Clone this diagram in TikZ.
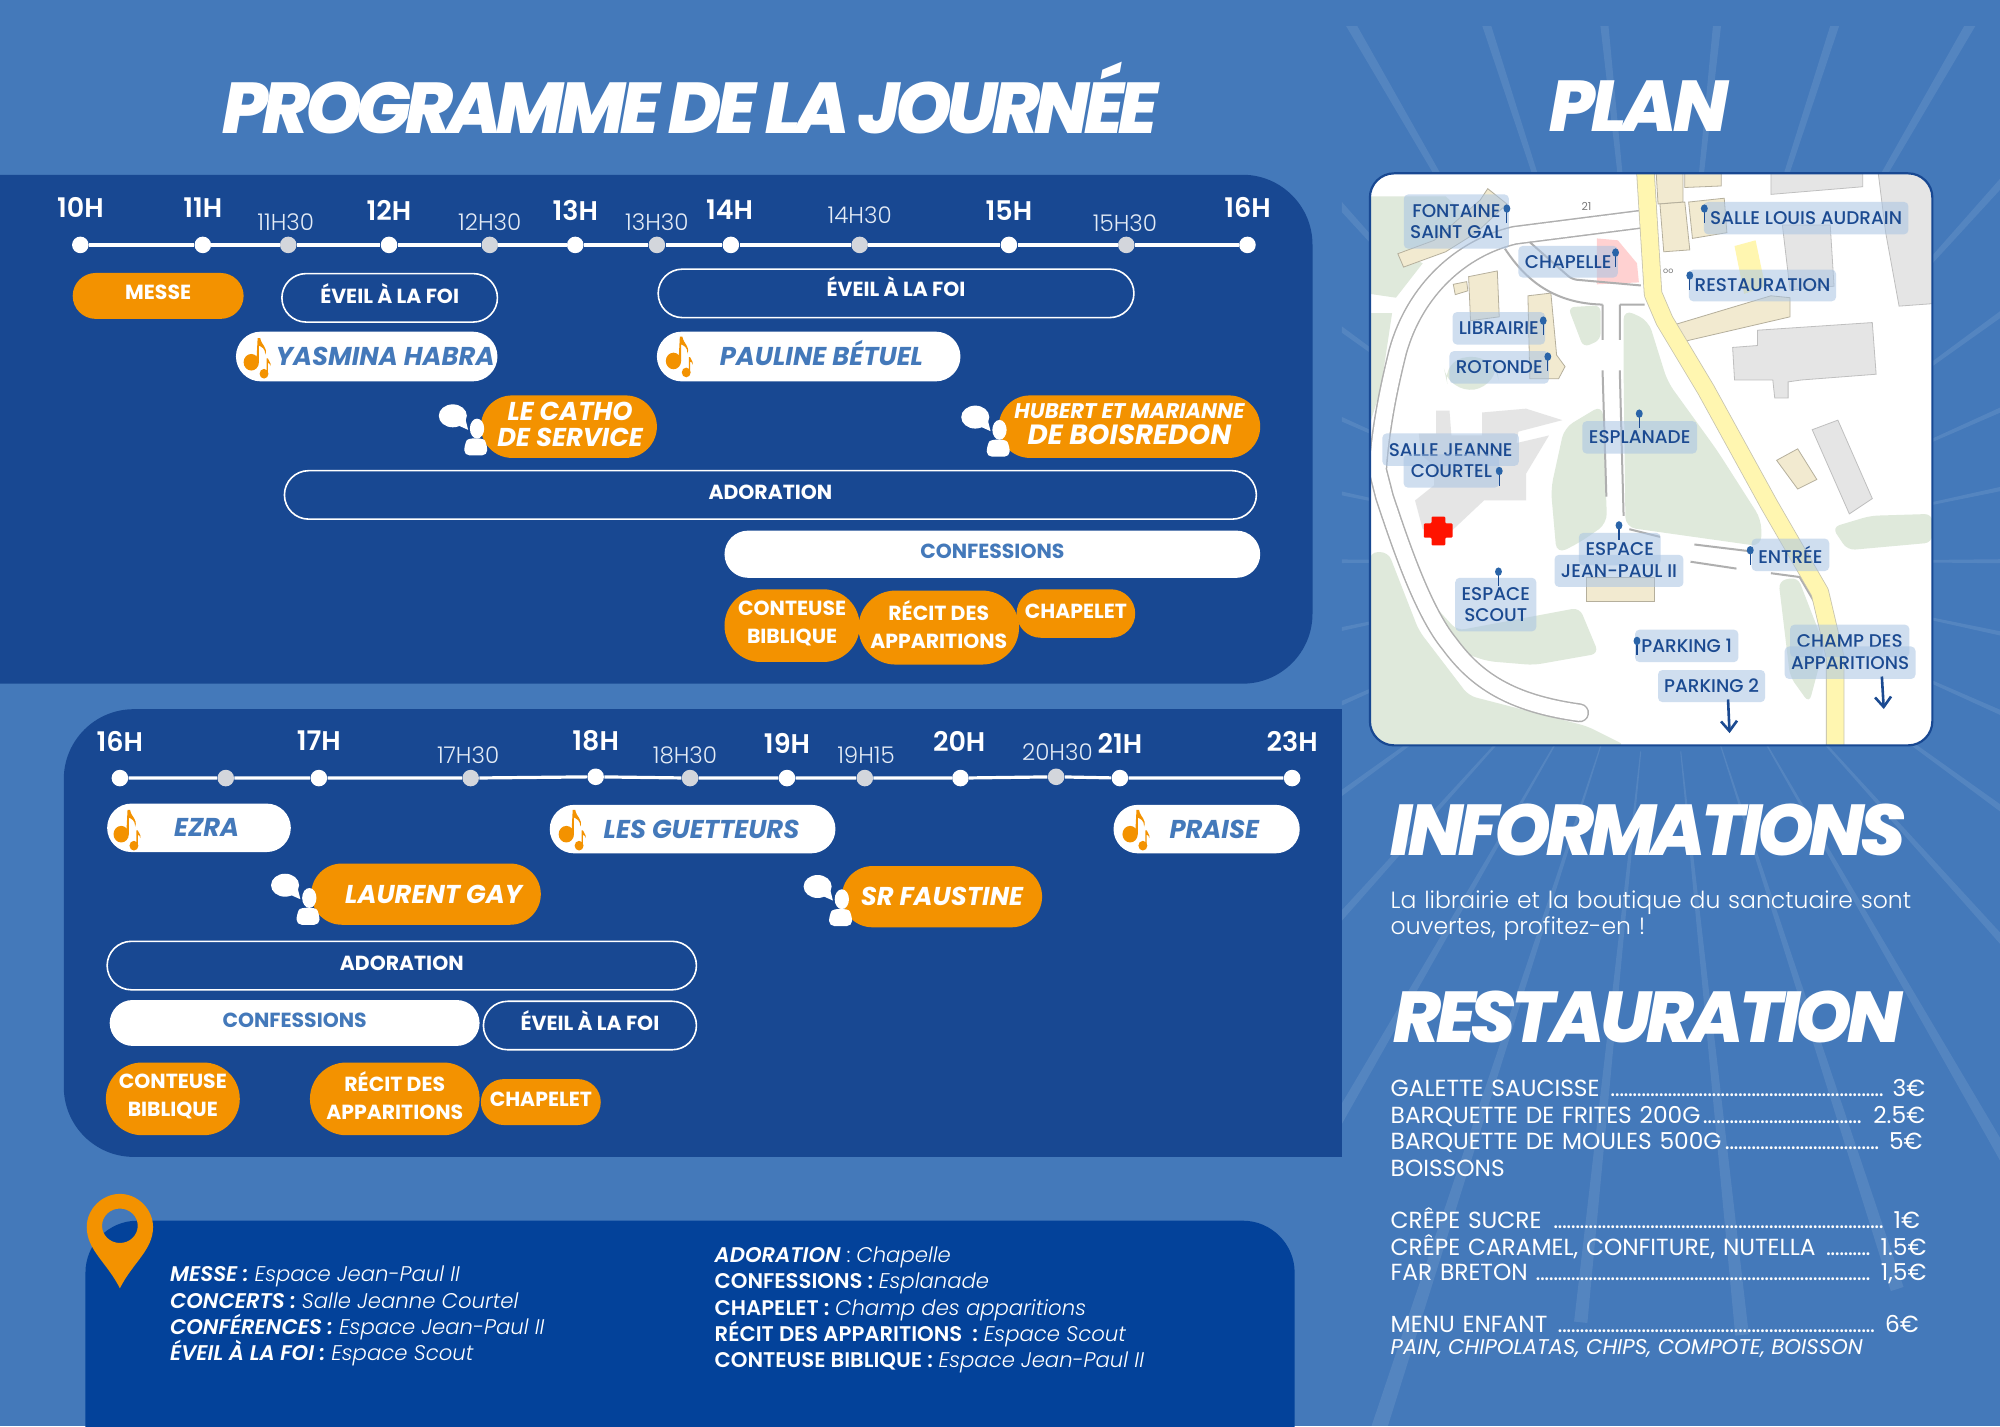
\documentclass[tikz,border=0pt]{standalone}
\usepackage{fontspec}
\setmainfont{Poppins}
\newfontfamily\titlefont[LetterSpace=-6.5]{Poppins ExtraBold Italic}
\newfontfamily\daytitlefont[LetterSpace=-7.5]{Poppins ExtraBold Italic}
\newfontfamily\plantitlefont[LetterSpace=-5.5]{Poppins ExtraBold Italic}
\newfontfamily\semifont{Poppins SemiBold}
\newfontfamily\lightfont{Poppins Light}
\newfontfamily\mediumfont{Poppins Medium}
\usetikzlibrary{positioning, arrows.meta, shapes.misc}
\newlength\uu
\setlength\uu{0.63776pt}
\definecolor{skyblue}{HTML}{4479BA}
\definecolor{navyblue}{HTML}{184892}
\definecolor{deepblue}{HTML}{03429A}
\definecolor{ambre}{HTML}{F39200}
\definecolor{mapgreen}{HTML}{DFE9DB}
\definecolor{mapbeige}{HTML}{F2EAD0}
\definecolor{mapgrey}{HTML}{E5E5E5}
\definecolor{mapline}{HTML}{AFAFAF}
\definecolor{mapyellow}{HTML}{FFF6B0}
\definecolor{mapink}{HTML}{1B4A91}
\definecolor{tagblue}{HTML}{A8C3E3}
\definecolor{pinblue}{HTML}{2A64A8}
\definecolor{halftick}{HTML}{D3D6DC}
\newcommand{\dotrun}{\leaders\hbox to 2.2pt{\hss.\hss}\hfill}
\tikzset{
  tick/.style={circle,fill=white,inner sep=0pt,minimum size=13\uu},
  halfmark/.style={tick,fill=halftick},
  hourlabel/.style={text=white,font=\semifont\fontsize{13.5}{14}\selectfont},
  halflabel/.style={text=white!85!skyblue,font=\lightfont\fontsize{11.5}{12}\selectfont},
  pill/.style={rounded rectangle,inner sep=0pt,align=center,font=\bfseries\fontsize{10.2}{14}\selectfont},
  lowpill/.style={pill,text height=7.2pt,text depth=4\uu},
  orangepill/.style={pill,fill=ambre,text=white,text depth=5\uu},
  orangeline/.style={lowpill,fill=ambre,text=white},
  framepill/.style={lowpill,draw=white,line width=0.8pt,text=white},
  whitepill/.style={lowpill,fill=white,text=skyblue},
  artist/.style={pill,fill=white,text=skyblue,text height=9pt,text depth=0pt,font=\bfseries\itshape\fontsize{12.9}{14}\selectfont},
  speaker/.style={pill,fill=ambre,text=white,text depth=4\uu,font=\bfseries\itshape\fontsize{12.9}{13}\selectfont},
  heading/.style={text=white,font=\titlefont\fontsize{36}{38}\selectfont},
  placetag/.style={rectangle,rounded corners=3.5\uu,fill=tagblue,fill opacity=.55,text opacity=1,text=mapink,inner sep=0pt,align=center,
    font=\mediumfont\fontsize{9.2}{10.4}\selectfont},
  building/.style={fill=mapbeige,draw=mapbeige!75!black,line width=.4pt},
  hall/.style={fill=mapgrey,draw=mapline!80!white,line width=.4pt},
  menurow/.style={anchor=base west,inner sep=0pt,text=white,text width=419\uu,font=\fontsize{11.65}{12}\selectfont},
  placeline/.style={anchor=base west,inner sep=0pt,text=white,font=\lightfont\fontsize{10.6}{13}\selectfont},
  note/.pic={
    \fill[ambre] (-4,4) ellipse (6 and 6.5);
    \fill[ambre] (0,4) -- (1,-15) -- (3,-15) .. controls (4,-9) and (9,-8) .. (7,-2) .. controls (7,-7) and (4,-8) .. (2,-9) -- (2,4) -- cycle;
    \fill[ambre] (6,13) ellipse (3.5 and 3.8);
    \fill[ambre] (8,13) -- (8,1) -- (9,1) .. controls (9,3) and (12,4) .. (11,7) .. controls (11,5) and (10,5) .. (9,4.5) -- (9,13) -- cycle;
  },
  talker/.pic={
    \fill[white] (-12,-11) ellipse (11 and 9);
    \fill[white] (-9,-4) -- (0,0) -- (-2,-8) -- cycle;
    \fill[white] (7,-1) ellipse (5.6 and 7.8);
    \fill[white,rounded corners=4\uu] (-3,20) -- (-3,12) .. controls (0,6) and (12,6) .. (15,12) -- (15,20) -- cycle;
  },
  mappin/.pic={
    \draw[mapink,line width=.6pt] (0,0) -- (0,38);
    \fill[pinblue] (0,0) ellipse (9 and 11);
  }
}
\begin{document}
\begin{tikzpicture}[x=\uu,y=-\uu]
  \useasboundingbox (0,0) rectangle (1568,1118);
  \fill[skyblue] (0,0) rectangle (1568,1118);

  % rays behind the right column
  \begin{scope}
    \clip (1052,21) rectangle (1568,1118);
    \foreach \a/\r in {0/800,12/800,24/720,36/640,48/690,60/640,72/600,84/610,96/600,108/800,120/720,132/640,144/800,156/800,168/800,180/800,192/800,204/800,216/800,228/800,240/800,252/800,264/800,276/800,288/800,300/800,312/800,324/800,336/800,348/800}
      \fill[white,opacity=.09,shift={(1302,440)},line cap=round]
        (\a-.15:150) -- (\a-.5:\r) -- (\a+.5:\r) -- (\a+.15:150) -- cycle;
  \end{scope}

  \node[heading,font=\daytitlefont\fontsize{36}{38}\selectfont] (titleday) at (541,77) {PROGRAMME DE LA JOURNÉE};
  \node[heading,font=\plantitlefont\fontsize{36}{38}\selectfont] (titleplan) at (1285,83) {PLAN};
  \node[heading] (titleinfo) at (1292,651) {INFORMATIONS};
  \node[heading] (titlefood) at (1292,797) {RESTAURATION};

  % morning panel
  \fill[navyblue,rounded corners=35pt] (-100,137) rectangle (1029,536);
  \node[tick] (t10) at (63,192) {};
  \node[tick] (t11) at (159,192) {};
  \node[halfmark] (t1130) at (226,192) {};
  \node[tick] (t12) at (305,192) {};
  \node[halfmark] (t1230) at (384,192) {};
  \node[tick] (t13) at (451,192) {};
  \node[halfmark] (t1330) at (515,192) {};
  \node[tick] (t14) at (573,192) {};
  \node[halfmark] (t1430) at (674,192) {};
  \node[tick] (t15) at (791,192) {};
  \node[halfmark] (t1530) at (883,192) {};
  \node[tick] (t16) at (978,192) {};
  \draw[white,line width=1.6pt] (t10) -- (t11) -- (t1130) -- (t12) -- (t1230) -- (t13) -- (t1330) -- (t14) -- (t1430) -- (t15) -- (t1530) -- (t16);
  \node[hourlabel] (l10) at (63,163) {10H};
  \node[hourlabel] (l11) at (159,163) {11H};
  \node[halflabel] (l1130) at (224,174) {11H30};
  \node[hourlabel] (l12) at (305,165) {12H};
  \node[halflabel] (l1230) at (384,174) {12H30};
  \node[hourlabel] (l13) at (451,165) {13H};
  \node[halflabel] (l1330) at (515,174) {13H30};
  \node[hourlabel] (l14) at (572,164) {14H};
  \node[halflabel] (l1430) at (674,169) {14H30};
  \node[hourlabel] (l15) at (791,165) {15H};
  \node[halflabel] (l1530) at (882,175) {15H30};
  \node[hourlabel] (l16) at (978,163) {16H};

  \node[orangeline,minimum width=134\uu,minimum height=36\uu,text depth=6\uu] (messe) at (124,232) {MESSE};
  \node[framepill,minimum width=169\uu,minimum height=38\uu,text depth=3\uu] (eveila) at (305.5,233.5) {ÉVEIL À LA FOI};
  \node[framepill,minimum width=373\uu,minimum height=38\uu,text depth=6\uu] (eveilb) at (702.5,230) {ÉVEIL À LA FOI};
  \node[artist,minimum width=205\uu,minimum height=39\uu] (yasmina) at (287.5,279.5) {\hspace*{29\uu}YASMINA HABRA};
  \node[artist,minimum width=238\uu,minimum height=39\uu] (pauline) at (634,279.5) {\hspace*{20\uu}PAULINE BÉTUEL};
  \pic at (201,280) {note};
  \pic at (532,279) {note};
  \node[speaker,minimum width=138\uu,minimum height=49\uu] (catho) at (446,334.5) {\hspace*{2\uu}LE CATHO\\\hspace*{2\uu}DE SERVICE};
  \node[speaker,minimum width=205\uu,minimum height=49\uu] (hubert) at (885.5,334.5) {{\fontsize{10.6}{12}\selectfont HUBERT ET MARIANNE}\\{\fontsize{13.9}{13}\selectfont DE BOISREDON}};
  \pic at (367,337) {talker};
  \pic at (776.6,338) {talker};
  \node[framepill,minimum width=762\uu,minimum height=38\uu] (adorationa) at (604,388) {ADORATION};
  \node[whitepill,minimum width=420\uu,minimum height=37\uu,text depth=5\uu] (confessionsa) at (778,434.5) {CONFESSIONS};
  \node[orangepill,minimum width=106\uu,minimum height=57\uu] (conteusea) at (621,490.5) {CONTEUSE\\BIBLIQUE};
  \node[orangepill,minimum width=120\uu,minimum height=58\uu] (recita) at (736,492) {RÉCIT DES\\APPARITIONS};
  \node[orangeline,minimum width=93\uu,minimum height=38\uu] (chapeleta) at (843.5,481) {CHAPELET};

  % evening panel
  \begin{scope}
    \clip (0,0) rectangle (1052,1118);
    \fill[navyblue,rounded corners=35pt] (50,556) rectangle (1200,907);
  \end{scope}
  \node[tick] (n16) at (94,610) {};
  \node[halfmark] (n1630) at (177,610) {};
  \node[tick] (n17) at (250,610) {};
  \node[halfmark] (n1730) at (369,610) {};
  \node[tick] (n18) at (467,609) {};
  \node[halfmark] (n1830) at (541,610) {};
  \node[tick] (n19) at (617,610) {};
  \node[halfmark] (n1915) at (678,610) {};
  \node[tick] (n20) at (753,610) {};
  \node[halfmark] (n2030) at (828,609) {};
  \node[tick] (n21) at (878,610) {};
  \node[tick] (n23) at (1013,610) {};
  \draw[white,line width=1.6pt] (n16) -- (n1630) -- (n17) -- (n1730) -- (n18) -- (n1830) -- (n19) -- (n1915) -- (n20) -- (n2030) -- (n21) -- (n23);
  \node[hourlabel] (m16) at (94,581) {16H};
  \node[hourlabel] (m17) at (250,581) {17H};
  \node[halflabel] (m1730) at (367,592) {17H30};
  \node[hourlabel] (m18) at (467,581) {18H};
  \node[halflabel] (m1830) at (537,592) {18H30};
  \node[hourlabel] (m19) at (617,583) {19H};
  \node[halflabel] (m1915) at (679,592) {19H15};
  \node[hourlabel] (m20) at (752,581) {20H};
  \node[halflabel] (m2030) at (829,590) {20H30};
  \node[hourlabel] (m21) at (878,583) {21H};
  \node[hourlabel] (m23) at (1013,581) {23H};

  \node[artist,minimum width=144\uu,minimum height=38\uu] (ezra) at (156,649) {\hspace*{12\uu}EZRA};
  \node[artist,minimum width=224\uu,minimum height=38\uu] (guetteurs) at (543,650) {\hspace*{14\uu}LES GUETTEURS};
  \node[artist,minimum width=146\uu,minimum height=38\uu] (praise) at (946,650) {\hspace*{12\uu}PRAISE};
  \pic at (99,650) {note};
  \pic at (448,650) {note};
  \pic at (890,650) {note};
  \node[speaker,minimum width=180\uu,minimum height=48\uu,text depth=0pt] (laurent) at (334,701) {\hspace*{12\uu}LAURENT GAY};
  \node[speaker,minimum width=157\uu,minimum height=48\uu,text depth=0pt] (faustine) at (738.5,703) {SR FAUSTINE};
  \pic at (235.5,705) {talker};
  \pic at (653,706) {talker};
  \node[framepill,minimum width=462\uu,minimum height=38\uu] (adorationb) at (315,757) {ADORATION};
  \node[whitepill,minimum width=290\uu,minimum height=36\uu] (confessionsb) at (231,802) {CONFESSIONS};
  \node[framepill,minimum width=167\uu,minimum height=38\uu] (eveilc) at (462.5,804) {ÉVEIL À LA FOI};
  \node[orangepill,minimum width=105\uu,minimum height=57\uu] (conteuseb) at (135.5,861.5) {CONTEUSE\\BIBLIQUE};
  \node[orangepill,minimum width=133\uu,minimum height=57\uu] (recitb) at (309.5,861.5) {RÉCIT DES\\APPARITIONS};
  \node[orangeline,minimum width=94\uu,minimum height=36\uu] (chapeletb) at (424,864) {CHAPELET};

  % places panel
  \fill[deepblue,rounded corners=26pt] (67,957) rectangle (1015,1300);
  \fill[ambre,even odd rule] (94,1010) .. controls (84,990) and (68,980) .. (68,962) .. controls (68,948) and (80,936) .. (94,936) .. controls (108,936) and (120,948) .. (120,962) .. controls (120,980) and (104,990) .. (94,1010) -- cycle
    (94,961) ellipse (14 and 13.5);
  \node[placeline] (placea) at (133,1005) {\textbf{\itshape MESSE :} \textit{Espace Jean-Paul II}};
  \node[placeline] (placeb) at (133,1025.5) {\textbf{\itshape CONCERTS :} \textit{Salle Jeanne Courtel}};
  \node[placeline] (placec) at (133,1046) {\textbf{\itshape CONFÉRENCES :} \textit{Espace Jean-Paul II}};
  \node[placeline] (placed) at (133,1067) {\textbf{\itshape ÉVEIL À LA FOI :} \textit{Espace Scout}};
  \node[placeline] (placee) at (560,990) {\textbf{\itshape ADORATION} : \textit{Chapelle}};
  \node[placeline] (placef) at (560,1010.5) {\textbf{CONFESSIONS :} \textit{Esplanade}};
  \node[placeline] (placeg) at (560,1031) {\textbf{CHAPELET :} \textit{Champ des apparitions}};
  \node[placeline] (placeh) at (560,1051.5) {\textbf{RÉCIT DES APPARITIONS\ \ :} \textit{Espace Scout}};
  \node[placeline] (placei) at (560,1072) {\textbf{CONTEUSE BIBLIQUE :} \textit{Espace Jean-Paul II}};

  % plan, in its own scale
  \begin{scope}[shift={(1058.4,125.4)},x=.3\uu,y=-.3\uu]
    \fill[white,rounded corners=19\uu] (52,35) rectangle (1522,1530);
    \begin{scope}
      \clip[rounded corners=19\uu] (52,35) rectangle (1522,1530);
      \fill[mapgreen] (52,95) -- (250,95) -- (340,180) -- (240,230) -- (130,240) -- (190,270) -- (120,360) -- (52,350) -- cycle;
      \fill[mapgreen] (52,400) -- (110,400) -- (80,600) -- (52,690) -- cycle;
      \fill[mapgreen,rounded corners=20\uu] (240,520) -- (380,510) -- (390,590) -- (260,610) -- cycle;
      \fill[mapgreen,rounded corners=5\uu] (570,385) -- (655,380) -- (655,470) -- (610,490) -- cycle;
      \fill[mapgreen,rounded corners=8\uu] (715,390) -- (780,420) -- (830,580) -- (960,760) -- (1075,940) -- (1075,1010) -- (720,960) -- (715,550) -- cycle;
      \fill[mapgreen,rounded corners=8\uu] (660,640) -- (560,700) -- (525,860) -- (540,1030) -- (600,1000) -- (672,950) -- cycle;
      \fill[mapgreen,rounded corners=6\uu] (1260,960) -- (1360,930) -- (1522,925) -- (1522,1000) -- (1300,1020) -- cycle;
      \fill[mapgreen,rounded corners=6\uu] (1120,1100) -- (1170,1090) -- (1240,1270) -- (1200,1420) -- (1150,1350) -- cycle;
      \fill[mapgreen,rounded corners=6\uu] (170,1110) -- (280,1230) -- (600,1170) -- (650,1290) -- (480,1320) -- (360,1310) -- (300,1290) -- (170,1130) -- cycle;
      \fill[mapgreen,rounded corners=6\uu] (52,1025) -- (100,1025) -- (180,1230) -- (310,1400) -- (620,1480) -- (720,1530) -- (52,1530) -- cycle;
      % buildings
      \draw[hall] (1100,30) -- (1340,30) -- (1340,70) -- (1100,90) -- cycle;
      \draw[hall] (1380,30) -- (1530,30) -- (1530,375) -- (1435,382) -- (1400,190) -- cycle;
      \draw[hall] (1130,170) -- (1255,170) -- (1265,330) -- (1150,340) -- cycle;
      \draw[hall] (1000,490) -- (1065,485) -- (1065,445) -- (1365,425) -- (1375,560) -- (1180,575) -- (1145,580) -- (1145,622) -- (1110,622) -- (1105,575) -- (1005,575) -- cycle;
      \draw[hall] (1208,705) -- (1275,680) -- (1365,885) -- (1305,925) -- cycle;
      \draw[hall,draw=none] (225,655) -- (260,655) -- (265,720) -- (345,720) -- (345,660) -- (460,650) -- (555,680) -- (440,710) -- (435,740) -- (520,720) -- (460,820) -- (460,890) -- (350,890) -- (265,970) -- (190,965) -- (170,890) -- (220,850) -- (220,800) -- (185,770) -- (180,715) -- (225,715) -- cycle;
      \draw[building] (800,30) -- (870,30) -- (870,110) -- (805,115) -- cycle;
      \draw[building] (810,115) -- (875,110) -- (888,235) -- (820,240) -- cycle;
      \draw[building] (885,110) -- (978,100) -- (985,190) -- (895,205) -- cycle;
      \draw[building] (875,30) -- (970,30) -- (970,68) -- (875,72) -- cycle;
      \draw[building] (125,245) -- (220,210) -- (340,105) -- (360,75) -- (410,115) -- (330,190) -- (250,240) -- (140,280) -- cycle;
      \draw[building] (310,305) -- (385,290) -- (390,410) -- (315,420) -- cycle;
      \draw[building] (270,325) -- (305,318) -- (308,342) -- (275,352) -- cycle;
      \draw[building] (465,355) -- (525,348) -- (540,510) -- (562,540) -- (545,572) -- (470,572) -- cycle;
      \draw[building] (850,430) -- (1100,355) -- (1150,360) -- (1150,410) -- (870,475) -- cycle;
      \draw[building] (1115,785) -- (1170,755) -- (1220,835) -- (1170,860) -- cycle;
      \draw[building] (618,1090) -- (795,1090) -- (795,1155) -- (618,1155) -- cycle;
      \fill[mapyellow] (1005,225) -- (1060,210) -- (1085,330) -- (1030,350) -- cycle;
      \fill[red!18] (645,205) -- (700,210) -- (750,270) -- (755,320) -- (645,325) -- cycle;
      % roads
      \draw[mapline,line width=9.5pt,line cap=round,line join=round] (760,155) -- (430,197) .. controls (290,230) and (170,340) .. (125,500) .. controls (100,600) and (80,700) .. (72,810) -- (90,880) .. controls (130,1000) and (190,1180) .. (260,1265) .. controls (330,1360) and (420,1420) .. (600,1445);
      \draw[white,line width=8pt,line cap=round,line join=round] (760,155) -- (430,197) .. controls (290,230) and (170,340) .. (125,500) .. controls (100,600) and (80,700) .. (72,810) -- (90,880) .. controls (130,1000) and (190,1180) .. (260,1265) .. controls (330,1360) and (420,1420) .. (600,1445);
      \draw[mapline,line width=1pt] (405,232) .. controls (450,300) and (520,375) .. (660,378);
      \draw[mapline,line width=1pt,rounded corners=4\uu] (470,215) -- (580,312) -- (760,328);
      \draw[mapline,line width=1pt] (660,378) -- (660,470) (660,550) -- (670,880) (705,378) -- (705,470) (705,550) -- (715,930) (705,378) -- (770,378);
      \draw[mapline,line width=1pt] (730,965) -- (810,985) (900,1005) -- (1040,1022) (890,1050) -- (1010,1068) (1100,1080) -- (1175,1090) -- (1240,1200);
      \draw[mapline!70!mapyellow,line width=9.2pt,line join=round] (772,30) -- (792,350) -- (822,420) -- (930,600) -- (1095,900) -- (1228,1130) -- (1268,1300) -- (1268,1540);
      \draw[mapyellow,line width=8.4pt,line join=round] (772,30) -- (792,350) -- (822,420) -- (930,600) -- (1095,900) -- (1228,1130) -- (1268,1300) -- (1268,1540);
      \node[inner sep=0pt,text=mapline!70!black,font=\fontsize{5.5}{6}\selectfont] (roadnum) at (618,122) {21};
      \node[inner sep=0pt,text=mapline!70!black,font=\fontsize{4}{5}\selectfont] (roadmark) at (832,291) {oo};
      \fill[red!85!orange,rounded corners=.5pt] (213,932) -- (249,932) -- (249,950) -- (268,950) -- (268,987) -- (249,987) -- (249,1007) -- (213,1007) -- (213,987) -- (193,987) -- (193,950) -- (213,950) -- cycle;
    \end{scope}
    \node[placetag,minimum width=275*.3\uu,minimum height=142*.3\uu] (fontaine) at (278,161) {FONTAINE\\SAINT GAL};
    \node[placetag,minimum width=260*.3\uu,minimum height=83*.3\uu] (chapelle) at (570,266) {CHAPELLE};
    \node[placetag,minimum width=535*.3\uu,minimum height=85*.3\uu] (salleaudrain) at (1192,152) {SALLE LOUIS AUDRAIN};
    \node[placetag,minimum width=385*.3\uu,minimum height=83*.3\uu] (restauration) at (1078,328) {RESTAURATION};
    \node[placetag,minimum width=242*.3\uu,minimum height=85*.3\uu] (librairie) at (389,440) {LIBRAIRIE};
    \node[placetag,minimum width=260*.3\uu,minimum height=85*.3\uu] (rotonde) at (390,542) {ROTONDE};
    \node[placetag,minimum width=300*.3\uu,minimum height=85*.3\uu] (esplanade) at (757,725) {ESPLANADE};
    \node[placetag,minimum width=357*.3\uu,minimum height=85*.3\uu] (sallejeanne) at (263,757) {SALLE JEANNE};
    \node[placetag,minimum width=250*.3\uu,minimum height=87*.3\uu] (courtel) at (265,813) {COURTEL};
    \node[placetag,minimum width=214*.3\uu,minimum height=85*.3\uu] (espacejp) at (705,1017) {ESPACE};
    \node[placetag,minimum width=337*.3\uu,minimum height=84*.3\uu] (jeanpaul) at (703,1074) {JEAN-PAUL II};
    \node[placetag,minimum width=203*.3\uu,minimum height=85*.3\uu] (entree) at (1151,1032) {ENTRÉE};
    \node[placetag,minimum width=212*.3\uu,minimum height=140*.3\uu] (scout) at (381,1162) {ESPACE\\SCOUT};
    \node[placetag,minimum width=270*.3\uu,minimum height=85*.3\uu] (parkinga) at (880,1270) {PARKING 1};
    \node[placetag,minimum width=280*.3\uu,minimum height=84*.3\uu] (parkingb) at (945,1375) {PARKING 2};
    \node[placetag,minimum width=312*.3\uu,minimum height=85*.3\uu] (champ) at (1306,1257) {CHAMP DES};
    \node[placetag,minimum width=342*.3\uu,minimum height=85*.3\uu] (apparitions) at (1307,1314) {APPARITIONS};
    \foreach \px/\py in {410/127,694/242,926/127,888/302,505/420,517/514,756/663,390/813,703/955,1046/1020,388/1076,750/1257}
      \pic[x=.3\uu,y=-.3\uu] at (\px,\py) {mappin};
    \coordinate (parkingfrom) at (988,1410);
    \coordinate (parkingto) at (992,1498);
    \coordinate (champfrom) at (1390,1350);
    \coordinate (champto) at (1395,1435);
    \draw[-{Straight Barb[length=5pt,width=8pt]},mapink,line width=1.3pt] (parkingfrom) -- (parkingto);
    \draw[-{Straight Barb[length=5pt,width=8pt]},mapink,line width=1.3pt] (champfrom) -- (champto);
    \draw[navyblue,line width=1.1pt,rounded corners=19\uu] (52,35) rectangle (1522,1530);
  \end{scope}

  % right column text
  \node[anchor=base west,inner sep=0pt,text=white,text width=420\uu,font=\lightfont\fontsize{11.75}{13.1}\selectfont] (infotext) at (1090,712) {La librairie et la boutique du sanctuaire sont\\ouvertes, profitez-en !};
  \node[menurow] (menua) at (1090,860) {GALETTE SAUCISSE \dotrun\ 3€};
  \node[menurow] (menub) at (1090,881) {BARQUETTE DE FRITES 200G\dotrun\ 2.5€};
  \node[menurow,text width=417\uu] (menuc) at (1090,901) {BARQUETTE DE MOULES 500G\dotrun\ 5€};
  \node[menurow] (menud) at (1090,922) {BOISSONS};
  \node[menurow,text width=415\uu] (menue) at (1090,963) {CRÊPE SUCRE \dotrun\ 1€};
  \node[menurow,text width=420\uu] (menuf) at (1090,984) {CRÊPE CARAMEL, CONFITURE, NUTELLA \dotrun\ 1.5€};
  \node[menurow,text width=420\uu] (menug) at (1090,1004) {FAR BRETON \dotrun\ 1,5€};
  \node[menurow,text width=414\uu] (menuh) at (1090,1045) {MENU ENFANT \dotrun\ 6€};
  \node[anchor=base west,inner sep=0pt,text=white,font=\itshape\fontsize{10.65}{11}\selectfont] (menui) at (1090,1062) {PAIN, CHIPOLATAS, CHIPS, COMPOTE, BOISSON};
\end{tikzpicture}
\end{document}
